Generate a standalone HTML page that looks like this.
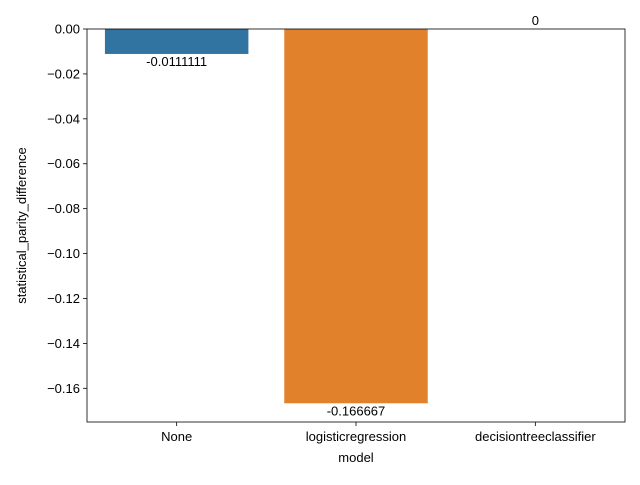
<!DOCTYPE html>
<html><head><meta charset="utf-8"><style>
body{margin:0;background:#fff;}
svg text{font-family:"Liberation Sans","DejaVu Sans",sans-serif;font-size:13px;fill:#000;}
</style></head><body>
<svg id="chart" width="640" height="480"></svg>
<script>
const categories=["None","logisticregression","decisiontreeclassifier"];
const values=[-0.0111111,-0.166667,0];
const valueLabels=["-0.0111111","-0.166667","0"];
const yTicks=[0,-0.02,-0.04,-0.06,-0.08,-0.10,-0.12,-0.14,-0.16];
const yTickLabels=["0.00","\u22120.02","\u22120.04","\u22120.06","\u22120.08","\u22120.10","\u22120.12","\u22120.14","\u22120.16"];
const colors=["#3274a1","#e1812c","#3a923a"];
const L=87,R=625,T=29,B=422,yMin=-0.175,yMax=0;
const svg=document.getElementById('chart');
const NS="http://www.w3.org/2000/svg";
function y(v){return T+(yMax-v)/(yMax-yMin)*(B-T);}
const step=(R-L)/categories.length;
function x(i){return L+step*(i+0.5);}
function mk(tag,attrs,text){const e=document.createElementNS(NS,tag);for(const k in attrs)e.setAttribute(k,attrs[k]);if(text!==undefined)e.textContent=text;svg.appendChild(e);return e;}
categories.forEach((c,i)=>{
 const w=step*0.8,y0=y(0),y1=y(values[i]);
 const r=mk('rect',{x:x(i)-w/2,y:Math.min(y0,y1),width:w,height:Math.abs(y1-y0),fill:colors[i]});
 
 
 const below=values[i]<0;
 const t=mk('text',{x:x(i),y:below?y1+12:y1-4,'text-anchor':'middle'},valueLabels[i]);
 
 
 const tk=mk('line',{x1:x(i),x2:x(i),y1:B,y2:B+4,stroke:'#000','stroke-width':0.8});
 
 
 const tl=mk('text',{x:x(i),y:B+19,'text-anchor':'middle'},c);
 
 
});
yTicks.forEach((v,i)=>{
 const tk=mk('line',{x1:L-4,x2:L,y1:y(v),y2:y(v),stroke:'#000','stroke-width':0.8});
 
 
 const tl=mk('text',{x:L-7,y:y(v)+4.5,'text-anchor':'end'},yTickLabels[i]);
 
 
});
const fr=mk('rect',{x:L,y:T,width:R-L,height:B-T,fill:'none',stroke:'#000','stroke-width':0.8});


const xl=mk('text',{x:(L+R)/2,y:462,'text-anchor':'middle'},'model');


const yl=mk('text',{x:0,y:0,'text-anchor':'middle',transform:'translate(26,'+((T+B)/2)+') rotate(-90)'},'statistical_parity_difference');


</script>
</body></html>
